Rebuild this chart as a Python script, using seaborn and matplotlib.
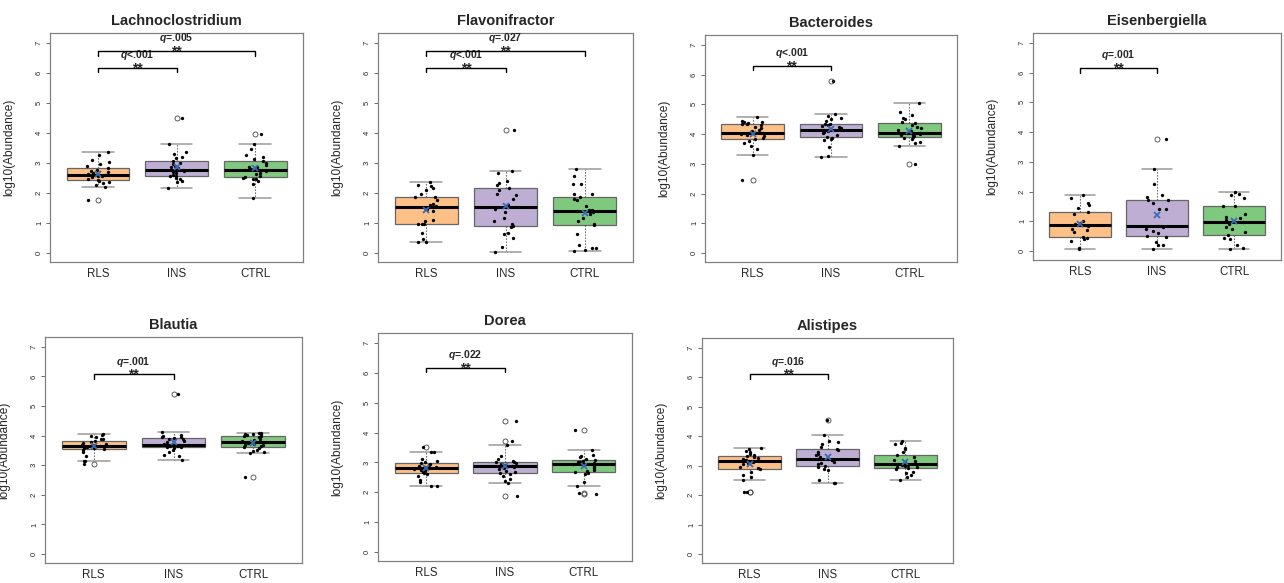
import numpy as np
import pandas as pd
import matplotlib
matplotlib.use("Agg")
import matplotlib.pyplot as plt
import seaborn as sns

sns.set_theme(style="white")
plt.rcParams['font.family'] = ['Liberation Sans', 'DejaVu Sans']
plt.rcParams['mathtext.fontset'] = 'custom'
plt.rcParams['mathtext.rm'] = 'Liberation Sans'
plt.rcParams['mathtext.bfit'] = 'Liberation Sans:italic:bold'

# groups and colours (RColorBrewer Accent)
groups = ["RLS", "INS", "CTRL"]
colors = {"RLS": "#FDC086", "INS": "#BEAED4", "CTRL": "#7FC97F"}

# log10 abundances
lachno_rls = [1.75, 2.2, 2.28, 2.33, 2.37, 2.4, 2.42, 2.48, 2.52, 2.55, 2.57, 2.59, 2.6,
              2.63, 2.66, 2.69, 2.72, 2.78, 2.83, 2.9, 2.97, 3.03, 3.1, 3.27, 3.37]
lachno_ins = [2.15, 2.35, 2.4, 2.45, 2.5, 2.55, 2.57, 2.6, 2.65, 2.7, 2.73, 2.76, 2.78,
              2.82, 2.86, 2.9, 2.95, 3.0, 3.07, 3.15, 3.2, 3.3, 3.38, 3.62, 4.5]
lachno_ctrl = [1.83, 2.3, 2.4, 2.45, 2.48, 2.5, 2.53, 2.58, 2.62, 2.68, 2.72, 2.75, 2.78,
               2.8, 2.85, 2.88, 2.92, 3.0, 3.07, 3.12, 3.2, 3.28, 3.48, 3.63, 3.97]

flavo_rls = [0.35, 0.37, 0.45, 0.65, 0.95, 0.96, 0.97, 1.05, 1.1, 1.4, 1.45, 1.5, 1.53,
             1.55, 1.6, 1.62, 1.78, 1.85, 1.88, 1.95, 2.1, 2.15, 2.22, 2.27, 2.35]
flavo_ins = [0.02, 0.2, 0.5, 0.62, 0.68, 0.85, 0.9, 0.95, 1.08, 1.18, 1.38, 1.45, 1.53,
             1.6, 1.8, 1.92, 1.95, 2.1, 2.15, 2.25, 2.32, 2.4, 2.65, 2.72, 4.1]
flavo_ctrl = [0.07, 0.1, 0.15, 0.18, 0.28, 0.62, 0.92, 0.95, 1.08, 1.18, 1.3, 1.35, 1.4,
              1.42, 1.43, 1.58, 1.75, 1.8, 1.87, 1.95, 1.97, 2.3, 2.3, 2.55, 2.8]

bactero_rls = [2.47, 3.3, 3.5, 3.6, 3.7, 3.78, 3.83, 3.87, 3.92, 3.97, 4.0, 4.02, 4.05,
               4.1, 4.15, 4.2, 4.25, 4.3, 4.33, 4.35, 4.38, 4.4, 4.42, 4.45, 4.57]
bactero_ins = [3.23, 3.27, 3.57, 3.8, 3.85, 3.88, 3.9, 3.98, 4.02, 4.08, 4.12, 4.14, 4.15,
               4.2, 4.25, 4.28, 4.3, 4.33, 4.35, 4.45, 4.5, 4.55, 4.6, 4.67, 5.8]
bactero_ctrl = [3.0, 3.6, 3.7, 3.75, 3.82, 3.87, 3.9, 3.93, 3.96, 3.98, 4.0, 4.03, 4.05,
                4.1, 4.15, 4.2, 4.25, 4.3, 4.37, 4.42, 4.5, 4.55, 4.65, 4.75, 5.05]

eisen_rls = [0.07, 0.12, 0.35, 0.4, 0.45, 0.47, 0.65, 0.7, 0.75, 0.85, 0.88,
             0.92, 0.95, 1.0, 1.25, 1.3, 1.45, 1.55, 1.62, 1.78, 1.9]
eisen_ins = [0.07, 0.2, 0.22, 0.32, 0.48, 0.5, 0.6, 0.68, 0.75, 0.82, 0.85,
             1.4, 1.4, 1.6, 1.7, 1.7, 1.82, 1.87, 2.27, 2.77, 3.78]
eisen_ctrl = [0.07, 0.1, 0.2, 0.4, 0.45, 0.53, 0.65, 0.75, 0.82, 0.9, 0.98,
              1.05, 1.1, 1.15, 1.25, 1.5, 1.52, 1.8, 1.9, 1.93, 1.97]

blautia_rls = [3.05, 3.14, 3.15, 3.3, 3.45, 3.5, 3.55, 3.57, 3.58, 3.6, 3.62, 3.64, 3.65,
               3.68, 3.7, 3.73, 3.76, 3.8, 3.83, 3.87, 3.9, 3.95, 3.98, 4.02, 4.07]
blautia_ins = [3.18, 3.3, 3.35, 3.45, 3.5, 3.57, 3.6, 3.62, 3.64, 3.65, 3.66, 3.67, 3.68,
               3.72, 3.77, 3.82, 3.87, 3.9, 3.93, 3.95, 3.97, 4.0, 4.03, 4.13, 5.4]
blautia_ctrl = [2.6, 3.43, 3.45, 3.48, 3.5, 3.58, 3.6, 3.65, 3.68, 3.7, 3.72, 3.75, 3.78,
                3.82, 3.85, 3.9, 3.95, 3.98, 4.0, 4.02, 4.04, 4.05, 4.07, 4.08, 4.1]

dorea_rls = [2.2, 2.22, 2.35, 2.42, 2.55, 2.6, 2.65, 2.68, 2.72, 2.75, 2.77, 2.79, 2.8,
             2.83, 2.86, 2.88, 2.92, 2.95, 2.97, 3.0, 3.05, 3.1, 3.35, 3.35, 3.52]
dorea_ins = [1.88, 2.32, 2.38, 2.45, 2.55, 2.6, 2.63, 2.67, 2.72, 2.78, 2.82, 2.86, 2.88,
             2.9, 2.93, 2.96, 2.98, 3.0, 3.02, 3.05, 3.1, 3.2, 3.57, 3.7, 4.37]
dorea_ctrl = [1.95, 1.97, 2.22, 2.35, 2.6, 2.65, 2.68, 2.72, 2.75, 2.8, 2.85, 2.9, 2.93,
              2.95, 2.98, 3.0, 3.02, 3.05, 3.08, 3.1, 3.18, 3.22, 3.25, 3.42, 4.1]

alis_rls = [2.1, 2.12, 2.53, 2.62, 2.7, 2.8, 2.9, 2.92, 2.97, 3.05, 3.1, 3.13, 3.15,
            3.18, 3.2, 3.22, 3.25, 3.28, 3.32, 3.35, 3.38, 3.45, 3.5, 3.55, 3.6]
alis_ins = [2.4, 2.42, 2.52, 2.85, 2.9, 2.95, 2.98, 3.05, 3.1, 3.12, 3.18, 3.2, 3.22,
            3.28, 3.35, 3.4, 3.45, 3.52, 3.58, 3.65, 3.75, 3.8, 3.85, 4.03, 4.55]
alis_ctrl = [2.5, 2.62, 2.7, 2.75, 2.8, 2.88, 2.93, 2.95, 2.97, 3.0, 3.02, 3.04, 3.05,
             3.08, 3.12, 3.15, 3.2, 3.3, 3.37, 3.45, 3.55, 3.6, 3.72, 3.78, 3.83]

titles = ["Lachnoclostridium", "Flavonifractor", "Bacteroides", "Eisenbergiella",
          "Blautia", "Dorea", "Alistipes"]
values = [
    [lachno_rls, lachno_ins, lachno_ctrl],
    [flavo_rls, flavo_ins, flavo_ctrl],
    [bactero_rls, bactero_ins, bactero_ctrl],
    [eisen_rls, eisen_ins, eisen_ctrl],
    [blautia_rls, blautia_ins, blautia_ctrl],
    [dorea_rls, dorea_ins, dorea_ctrl],
    [alis_rls, alis_ins, alis_ctrl],
]
# significance brackets: (group a, group b, height, q text)
brackets = [
    [(0, 1, 6.17, "<.001"), (0, 2, 6.73, "=.005")],
    [(0, 1, 6.17, "<.001"), (0, 2, 6.73, "=.027")],
    [(0, 1, 6.3, "<.001")],
    [(0, 1, 6.15, "=.001")],
    [(0, 1, 6.07, "=.001")],
    [(0, 1, 6.17, "=.022")],
    [(0, 1, 6.1, "=.016")],
]

# axes boxes in pixels: left, top, right, bottom
W, H = 1284, 583
frames = [(50, 33, 303, 262), (378, 33, 633, 262), (705, 35, 957, 262), (1033, 33, 1281, 260),
          (45, 337, 302, 563), (378, 333, 632, 561), (702, 338, 953, 563)]

np.random.seed(7)
fig = plt.figure(figsize=(W / 100, H / 100), dpi=100)

for title, vals, brk, (l, t, r, b) in zip(titles, values, brackets, frames):
    ax = fig.add_axes([l / W, 1 - b / H, (r - l) / W, (b - t) / H])
    df = pd.DataFrame({
        "group": np.repeat(groups, [len(v) for v in vals]),
        "value": np.concatenate(vals),
    })
    sns.boxplot(data=df, x="group", y="value", hue="group", order=groups, hue_order=groups,
                palette=colors, legend=False, width=0.8, saturation=1, ax=ax,
                linecolor="#555555", linewidth=0.9,
                boxprops=dict(edgecolor="#666666", linewidth=0.9),
                medianprops=dict(color="black", linewidth=2.2),
                whiskerprops=dict(color="#555555", linestyle=(0, (1.2, 1.5)), linewidth=0.8),
                capprops=dict(color="#9a9a9a", linewidth=1.1),
                flierprops=dict(marker="o", markerfacecolor="none", markeredgecolor="#444444",
                                markersize=3.6, markeredgewidth=0.6))
    sns.stripplot(data=df, x="group", y="value", order=groups, color="black", size=2.4,
                  jitter=0.15, linewidth=0, ax=ax, zorder=3)
    means = df.groupby("group")["value"].mean().reindex(groups)
    ax.plot(range(3), means.values, linestyle="none", marker="x", color="#3B6BB0",
            markersize=5, markeredgewidth=1.3, zorder=4)

    for i, j, y, q in brk:
        ax.plot([i, i, j, j], [y - 0.15, y, y, y - 0.15], color="black", lw=1, zorder=5)
        ax.text((i + j) / 2, y + 0.43, r"$\mathbfit{q}$" + q, ha="center", va="center",
                fontsize=7.5, fontweight="bold")
        ax.text((i + j) / 2, y - 0.02, "**", ha="center", va="center",
                fontsize=10, fontweight="bold")

    ax.set_xlim(-0.61, 2.61)
    ax.set_ylim(-0.3, 7.33)
    ax.set_yticks(range(8))
    ax.set_xlabel("")
    ax.set_ylabel("log10(Abundance)", fontsize=8.6)
    ax.yaxis.set_label_coords(-35 / (r - l), 0.5)
    ax.set_title(title, fontsize=10.5, fontweight="bold", pad=6)
    ax.tick_params(axis="y", labelrotation=90, labelsize=5.5, length=3, width=0.6,
                   color="#555555", pad=2, left=True)
    for lab in ax.get_yticklabels():
        lab.set_va("center")
    ax.tick_params(axis="x", length=0, labelsize=8.3, pad=4)
    for s in ax.spines.values():
        s.set_color("#808080")
        s.set_linewidth(0.9)

fig.savefig("out.png", dpi=100)
